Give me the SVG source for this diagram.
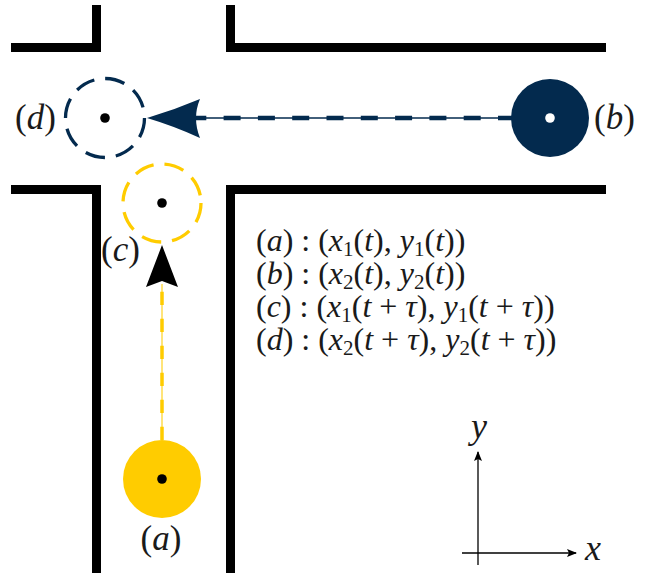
<svg xmlns="http://www.w3.org/2000/svg" width="649" height="573" viewBox="0 0 649 573">
<defs>
<marker id="axhead" viewBox="0 0 10 10" refX="9" refY="5" markerWidth="10" markerHeight="10" markerUnits="userSpaceOnUse" orient="auto">
<path d="M0,1 L10,5 L0,9 L2,5 Z" fill="#000"/>
</marker>
</defs>
<rect width="649" height="573" fill="#fff"/>
<g id="walls" fill="none" stroke="#000" stroke-width="9">
<path d="M96.5,5 V47.5 H11"/>
<path d="M230.5,5 V47.5 H606"/>
<path d="M11,189.5 H96.5 V573"/>
<path d="M606,189.5 H230.5 V573"/>
</g>
<g id="connectors">
<line x1="162" y1="440" x2="162" y2="284" stroke="#FFCC00" stroke-opacity="0.7" stroke-width="1.5"/>
<line x1="162" y1="440" x2="162" y2="284" stroke="#FFCC00" stroke-width="3.5" stroke-dasharray="13.3 13.7"/>
<path d="M162,245 L178,287 L162,281 L146,287 Z" fill="#000"/>
<line x1="515" y1="118" x2="196" y2="118" stroke="#032A4E" stroke-width="1.5"/>
<line x1="515" y1="118" x2="196" y2="118" stroke="#032A4E" stroke-width="4.5" stroke-dasharray="17 17.3"/>
<path d="M147,118 Q174,110 200,99 Q192,118 200,138 Q174,126 147,118 Z" fill="#032A4E"/>
</g>
<g id="node-a">
<circle cx="162" cy="479" r="39" fill="#FFCC00"/>
<circle cx="162" cy="479" r="4.8" fill="#000"/>
<text x="161" y="550" font-family="Times New Roman, Liberation Serif, serif" font-size="35" fill="#1a1a1a" text-anchor="middle">(<tspan font-style="italic">a</tspan>)</text>
</g>
<g id="node-b">
<circle cx="550" cy="118" r="39" fill="#032A4E"/>
<circle cx="550" cy="118" r="4.8" fill="#fff"/>
<text x="594" y="129" font-family="Times New Roman, Liberation Serif, serif" font-size="35" fill="#1a1a1a">(<tspan font-style="italic">b</tspan>)</text>
</g>
<g id="node-c">
<circle cx="162" cy="203" r="39" fill="none" stroke="#FFCC00" stroke-width="3.3" stroke-dasharray="20 11"/>
<circle cx="162" cy="203" r="4.8" fill="#000"/>
<text x="101" y="261" font-family="Times New Roman, Liberation Serif, serif" font-size="35" fill="#1a1a1a">(<tspan font-style="italic">c</tspan>)</text>
</g>
<g id="node-d">
<circle cx="105" cy="118" r="39.5" fill="none" stroke="#032A4E" stroke-width="3.3" stroke-dasharray="20 11"/>
<circle cx="105" cy="118" r="4.8" fill="#000"/>
<text x="15" y="129" font-family="Times New Roman, Liberation Serif, serif" font-size="35" fill="#1a1a1a">(<tspan font-style="italic">d</tspan>)</text>
</g>
<g id="legend" fill="#1a1a1a" font-family="Times New Roman, Liberation Serif, serif" font-size="32">
<text x="256" y="251">(<tspan font-style="italic">a</tspan>)  :  (<tspan font-style="italic">x</tspan><tspan font-size="21" baseline-shift="-5">1</tspan>(<tspan font-style="italic">t</tspan>), <tspan font-style="italic">y</tspan><tspan font-size="21" baseline-shift="-5">1</tspan>(<tspan font-style="italic">t</tspan>))</text>
<text x="256" y="284">(<tspan font-style="italic">b</tspan>)  :  (<tspan font-style="italic">x</tspan><tspan font-size="21" baseline-shift="-5">2</tspan>(<tspan font-style="italic">t</tspan>), <tspan font-style="italic">y</tspan><tspan font-size="21" baseline-shift="-5">2</tspan>(<tspan font-style="italic">t</tspan>))</text>
<text x="256" y="317">(<tspan font-style="italic">c</tspan>)  :  (<tspan font-style="italic">x</tspan><tspan font-size="21" baseline-shift="-5">1</tspan>(<tspan font-style="italic">t</tspan> + <tspan font-style="italic">τ</tspan>), <tspan font-style="italic">y</tspan><tspan font-size="21" baseline-shift="-5">1</tspan>(<tspan font-style="italic">t</tspan> + <tspan font-style="italic">τ</tspan>))</text>
<text x="256" y="350">(<tspan font-style="italic">d</tspan>)  :  (<tspan font-style="italic">x</tspan><tspan font-size="21" baseline-shift="-5">2</tspan>(<tspan font-style="italic">t</tspan> + <tspan font-style="italic">τ</tspan>), <tspan font-style="italic">y</tspan><tspan font-size="21" baseline-shift="-5">2</tspan>(<tspan font-style="italic">t</tspan> + <tspan font-style="italic">τ</tspan>))</text>
</g>
<g id="axes">
<line x1="478" y1="565" x2="478" y2="452" stroke="#000" stroke-width="1.3" marker-end="url(#axhead)"/>
<line x1="462" y1="553" x2="576" y2="553" stroke="#000" stroke-width="1.3" marker-end="url(#axhead)"/>
<text x="479" y="438" font-family="Times New Roman, Liberation Serif, serif" font-size="36" font-style="italic" fill="#1a1a1a" text-anchor="middle">y</text>
<text x="593" y="560" font-family="Times New Roman, Liberation Serif, serif" font-size="36" font-style="italic" fill="#1a1a1a" text-anchor="middle">x</text>
</g>
</svg>
